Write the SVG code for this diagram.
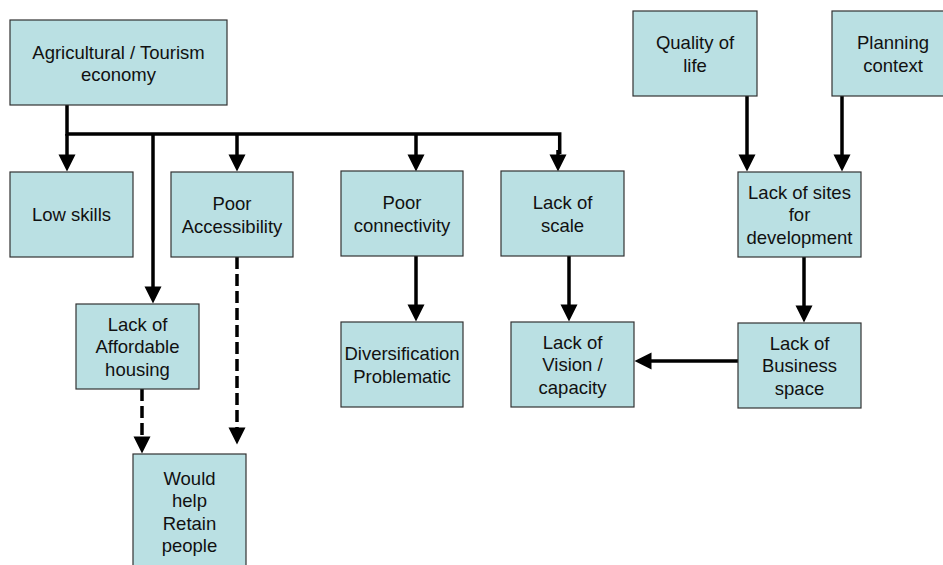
<svg xmlns="http://www.w3.org/2000/svg" width="943" height="565" viewBox="0 0 943 565">
  <style>
    .box { fill: #BAE0E3; stroke: #333333; stroke-width: 1.2; }
    .lbl { font-family: "Liberation Sans", Arial, sans-serif; font-size: 18.5px; fill: #111111; text-anchor: middle; }
    .ln { fill: none; stroke: #000000; stroke-width: 3.5; }
    .dash { stroke-dasharray: 12 5; }
  </style>
  <defs>
    <marker id="head" markerUnits="userSpaceOnUse" markerWidth="17" markerHeight="17" refX="0.5" refY="8.5" orient="auto" overflow="visible">
      <path d="M0,0 L17,8.5 L0,17 Z" fill="#000000"/>
    </marker>
  </defs>
  <rect width="943" height="565" fill="#ffffff"/>

  <!-- connectors -->
  <g id="connectors">
    <!-- trunk from the economy box -->
    <path class="ln" d="M67,105 V134 H559.7 V154"/>
    <line class="ln" x1="67" y1="134" x2="67" y2="155" marker-end="url(#head)"/>
    <line class="ln" x1="153" y1="134" x2="153" y2="287" marker-end="url(#head)"/>
    <line class="ln" x1="237" y1="134" x2="237" y2="155" marker-end="url(#head)"/>
    <line class="ln" x1="416" y1="134" x2="416" y2="155" marker-end="url(#head)"/>
    <line class="ln" x1="558" y1="150" x2="558" y2="155" marker-end="url(#head)"/>
    <!-- second tier -->
    <line class="ln" x1="416" y1="256" x2="416" y2="305" marker-end="url(#head)"/>
    <line class="ln" x1="569" y1="256" x2="569" y2="305" marker-end="url(#head)"/>
    <!-- dashed links to retention -->
    <line class="ln dash" x1="142" y1="389" x2="142" y2="437" marker-end="url(#head)"/>
    <line class="ln dash" x1="237" y1="257" x2="237" y2="428" marker-end="url(#head)"/>
    <!-- right-hand chain -->
    <line class="ln" x1="747" y1="96" x2="747" y2="155" marker-end="url(#head)"/>
    <line class="ln" x1="842" y1="96" x2="842" y2="155" marker-end="url(#head)"/>
    <line class="ln" x1="804" y1="257" x2="804" y2="306" marker-end="url(#head)"/>
    <line class="ln" x1="738" y1="361" x2="651" y2="361" marker-end="url(#head)"/>
  </g>

  <g id="n-economy">
    <rect class="box" x="10" y="20" width="217" height="85"/>
    <text class="lbl" x="118.5" y="58.5">Agricultural / Tourism</text>
    <text class="lbl" x="118.5" y="81">economy</text>
  </g>
  <g id="n-lowskills">
    <rect class="box" x="10" y="172" width="123" height="85"/>
    <text class="lbl" x="71.5" y="221">Low skills</text>
  </g>
  <g id="n-access">
    <rect class="box" x="171" y="172" width="122" height="85"/>
    <text class="lbl" x="232" y="210">Poor</text>
    <text class="lbl" x="232" y="232.5">Accessibility</text>
  </g>
  <g id="n-connect">
    <rect class="box" x="341" y="171" width="122" height="85"/>
    <text class="lbl" x="402" y="209">Poor</text>
    <text class="lbl" x="402" y="231.5">connectivity</text>
  </g>
  <g id="n-scale">
    <rect class="box" x="501" y="171" width="123" height="85"/>
    <text class="lbl" x="562.5" y="209">Lack of</text>
    <text class="lbl" x="562.5" y="231.5">scale</text>
  </g>
  <g id="n-quality">
    <rect class="box" x="633" y="11" width="124" height="85"/>
    <text class="lbl" x="695" y="49">Quality of</text>
    <text class="lbl" x="695" y="71.5">life</text>
  </g>
  <g id="n-planning">
    <rect class="box" x="832" y="11" width="124" height="85"/>
    <text class="lbl" x="893" y="49">Planning</text>
    <text class="lbl" x="893" y="71.5">context</text>
  </g>
  <g id="n-sites">
    <rect class="box" x="738" y="172" width="123" height="85"/>
    <text class="lbl" x="799.5" y="198.5">Lack of sites</text>
    <text class="lbl" x="799.5" y="221">for</text>
    <text class="lbl" x="799.5" y="243.5">development</text>
  </g>
  <g id="n-housing">
    <rect class="box" x="76" y="304" width="123" height="85"/>
    <text class="lbl" x="137.5" y="330.5">Lack of</text>
    <text class="lbl" x="137.5" y="353">Affordable</text>
    <text class="lbl" x="137.5" y="375.5">housing</text>
  </g>
  <g id="n-divers">
    <rect class="box" x="341" y="322" width="122" height="85"/>
    <text class="lbl" x="402" y="360">Diversification</text>
    <text class="lbl" x="402" y="382.5">Problematic</text>
  </g>
  <g id="n-vision">
    <rect class="box" x="511" y="322" width="123" height="85"/>
    <text class="lbl" x="572.5" y="348.5">Lack of</text>
    <text class="lbl" x="572.5" y="371">Vision /</text>
    <text class="lbl" x="572.5" y="393.5">capacity</text>
  </g>
  <g id="n-business">
    <rect class="box" x="738" y="323" width="123" height="85"/>
    <text class="lbl" x="799.5" y="349.5">Lack of</text>
    <text class="lbl" x="799.5" y="372">Business</text>
    <text class="lbl" x="799.5" y="394.5">space</text>
  </g>
  <g id="n-retain">
    <rect class="box" x="133" y="454" width="113" height="116"/>
    <text class="lbl" x="189.5" y="484.5">Would</text>
    <text class="lbl" x="189.5" y="507">help</text>
    <text class="lbl" x="189.5" y="529.5">Retain</text>
    <text class="lbl" x="189.5" y="552">people</text>
  </g>
</svg>
